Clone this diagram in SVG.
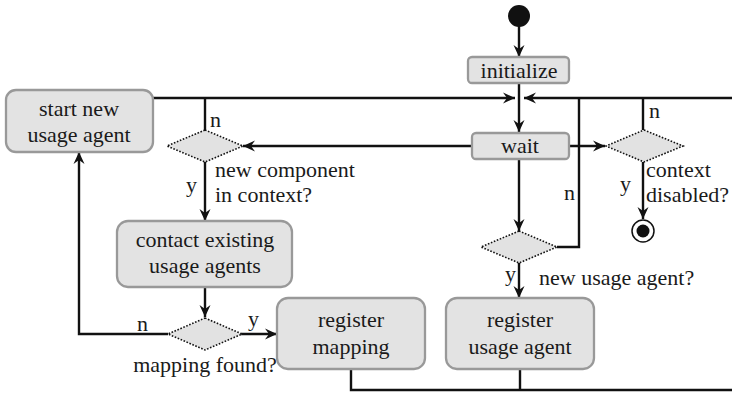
<svg xmlns="http://www.w3.org/2000/svg" width="732" height="394" viewBox="0 0 732 394" font-family="Liberation Serif, Times New Roman, serif" font-size="22">
  <style>
    .box { fill: #e3e3e3; stroke: #999; stroke-width: 2.3; }
    .dec { fill: #e2e2e2; stroke: #111; stroke-width: 1.6; stroke-dasharray: 1.6 1.6; }
    .edge { fill: none; stroke: #111; stroke-width: 2.4; }
    .arr { marker-end: url(#head); }
    text { fill: #1a1a1a; }
    .c { text-anchor: middle; }
  </style>
  <defs>
    <marker id="head" viewBox="-13 -7 14 14" refX="0" refY="0" markerWidth="14" markerHeight="14" markerUnits="userSpaceOnUse" orient="auto">
      <path d="M -12 -5.5 L 0 0 L -12 5.5 L -8 0 Z" fill="#111"/>
    </marker>
  </defs>

  <!-- flow lines -->
  <g id="connectors">
    <path class="edge arr" d="M 519 26 V 57"/>
    <path class="edge arr" d="M 519 83 V 132"/>
    <path class="edge arr" d="M 153 98 H 515"/>
    <path class="edge" d="M 205 98 V 130"/>
    <path class="edge arr" d="M 732 98 H 524"/>
    <path class="edge" d="M 579 98 V 247 H 557"/>
    <path class="edge" d="M 643 98 V 130"/>
    <path class="edge arr" d="M 472 146 H 243"/>
    <path class="edge arr" d="M 569 146 H 605"/>
    <path class="edge arr" d="M 519 159 V 231"/>
    <path class="edge arr" d="M 643 162 V 219"/>
    <path class="edge arr" d="M 205 162 V 221"/>
    <path class="edge arr" d="M 205 287 V 317"/>
    <path class="edge arr" d="M 168 334 H 79 V 152"/>
    <path class="edge arr" d="M 241 334 H 277"/>
    <path class="edge arr" d="M 519 263 V 298"/>
    <path class="edge" d="M 351 369 V 390 H 732"/>
    <path class="edge" d="M 520 369 V 390"/>
  </g>

  <g id="start">
    <circle cx="519" cy="16" r="11" fill="#111"/>
  </g>

  <g id="initialize">
    <rect class="box" x="468" y="57" width="101" height="26" rx="4"/>
    <text class="c" x="519" y="78">initialize</text>
  </g>

  <g id="wait">
    <rect class="box" x="472" y="133" width="97" height="26" rx="4"/>
    <text class="c" x="520" y="153">wait</text>
  </g>

  <g id="start-new-usage-agent">
    <rect class="box" x="6" y="90" width="147" height="62" rx="10"/>
    <text class="c" x="79" y="116">start new</text>
    <text class="c" x="79" y="142">usage agent</text>
  </g>

  <g id="new-component">
    <polygon class="dec" points="205,130 243,146 205,162 167,146"/>
    <text x="210" y="127">n</text>
    <text x="186" y="192">y</text>
    <text x="215" y="177">new component</text>
    <text x="215" y="202">in context?</text>
  </g>

  <g id="context-disabled">
    <polygon class="dec" points="644,130 683,146 644,162 606,146"/>
    <text x="649" y="118">n</text>
    <text x="620" y="191">y</text>
    <text x="646" y="177">context</text>
    <text x="646" y="202">disabled?</text>
  </g>

  <g id="end">
    <circle cx="643" cy="231" r="11" fill="#fff" stroke="#111" stroke-width="1.5"/>
    <circle cx="643" cy="231" r="6.5" fill="#111"/>
  </g>

  <g id="new-usage-agent">
    <polygon class="dec" points="519,231 557,247 519,263 481,247"/>
    <text x="564" y="200">n</text>
    <text x="505" y="281">y</text>
    <text x="539" y="285">new usage agent?</text>
  </g>

  <g id="contact-existing">
    <rect class="box" x="117" y="221" width="175" height="66" rx="11"/>
    <text class="c" x="205" y="247">contact existing</text>
    <text class="c" x="205" y="273">usage agents</text>
  </g>

  <g id="mapping-found">
    <polygon class="dec" points="205,318 242,334 205,350 168,334"/>
    <text x="137" y="331">n</text>
    <text x="248" y="326">y</text>
    <text class="c" x="205" y="372">mapping found?</text>
  </g>

  <g id="register-mapping">
    <rect class="box" x="277" y="298" width="148" height="71" rx="11"/>
    <text class="c" x="351" y="327">register</text>
    <text class="c" x="351" y="354">mapping</text>
  </g>

  <g id="register-usage-agent">
    <rect class="box" x="446" y="298" width="148" height="71" rx="11"/>
    <text class="c" x="520" y="327">register</text>
    <text class="c" x="520" y="354">usage agent</text>
  </g>
</svg>
